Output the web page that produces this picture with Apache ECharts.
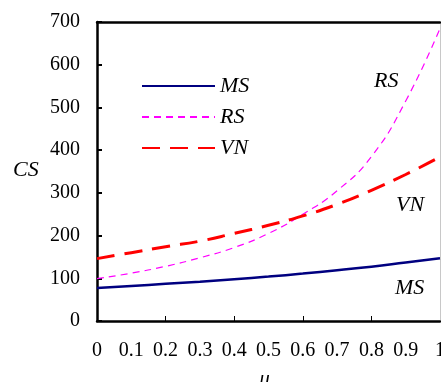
<!DOCTYPE html>
<html>
<head>
<meta charset="utf-8">
<script src="https://cdn.jsdelivr.net/npm/echarts@6/dist/echarts.min.js"></script>
<style>
  html, body { margin: 0; padding: 0; background: #fff; }
  #chart { width: 441px; height: 382px; }
</style>
</head>
<body>
<div id="chart"></div>
<script>
// values
const mu = [0, 0.1, 0.2, 0.3, 0.4, 0.5, 0.6, 0.7, 0.8, 0.9, 1.0];
const msValues = [77, 82, 87, 92, 98, 104, 111, 119, 127, 137, 147];
const rsValues = [99, 112, 128, 148, 172, 205, 250, 305, 385, 515, 685];
const vnValues = [146, 160, 174, 187, 205, 224, 246, 273, 306, 343, 384];
const xTickValues = [0.2, 0.4, 0.6, 0.8];
const seriesNames = ['MS', 'RS', 'VN'];

const serif = 'Liberation Serif';

const chartDom = document.getElementById('chart');
const myChart = echarts.init(chartDom, undefined, { renderer: 'canvas' });

const pairs = (vals) => mu.map((m, i) => [m, vals[i]]);

const option = {
  animation: false,
  grid: { left: 97, right: 1, top: 22, bottom: 61, containLabel: false, outerBoundsMode: 'none' },
  legend: {
    data: seriesNames,
    orient: 'vertical',
    left: 136,
    top: 70,
    itemWidth: 73,
    itemHeight: 14,
    itemGap: 9,
    itemStyle: { opacity: 0 },
    textStyle: { fontFamily: serif, fontStyle: 'italic', fontSize: 22, color: '#000' }
  },
  xAxis: [
    {
      type: 'value',
      min: 0,
      max: 1,
      interval: 0.1,
      name: 'μ',
      nameLocation: 'middle',
      nameGap: 48,
      nameTextStyle: { fontFamily: serif, fontStyle: 'italic', fontSize: 21, color: '#000', padding: [0, 8, 0, 0] },
      axisLine: { show: true, onZero: false, lineStyle: { color: '#000', width: 2.5 } },
      axisTick: { show: true, inside: true, length: 5, customValues: xTickValues, lineStyle: { color: '#000', width: 1 } },
      axisLabel: { margin: 20, fontFamily: serif, fontSize: 20, color: '#000' },
      splitLine: { show: false }
    },
    {
      type: 'value',
      position: 'top',
      min: 0,
      max: 1,
      axisLine: { show: true, onZero: false, lineStyle: { color: '#000', width: 2.5 } },
      axisTick: { show: false },
      axisLabel: { show: false },
      splitLine: { show: false }
    }
  ],
  yAxis: [
    {
      type: 'value',
      min: 0,
      max: 700,
      interval: 100,
      axisLine: { show: true, onZero: false, lineStyle: { color: '#000', width: 2.5 } },
      axisTick: { show: true, inside: true, length: 5, lineStyle: { color: '#000', width: 2 } },
      axisLabel: { margin: 17, fontFamily: serif, fontSize: 20, color: '#000' },
      splitLine: { show: false }
    },
    {
      type: 'value',
      position: 'right',
      min: 0,
      max: 700,
      axisLine: { show: true, onZero: false, lineStyle: { color: '#c8c8c8', width: 1 } },
      axisTick: { show: false },
      axisLabel: { show: false },
      splitLine: { show: false }
    }
  ],
  graphic: [
    { type: 'text', left: 13, top: 159, style: { text: 'CS', font: 'italic 22px "Liberation Serif"', fill: '#000' } },
    { type: 'text', left: 374, top: 70, style: { text: 'RS', font: 'italic 22px "Liberation Serif"', fill: '#000' } },
    { type: 'text', left: 396, top: 194, style: { text: 'VN', font: 'italic 22px "Liberation Serif"', fill: '#000' } },
    { type: 'text', left: 395, top: 277, style: { text: 'MS', font: 'italic 22px "Liberation Serif"', fill: '#000' } }
  ],
  series: [
    {
      name: 'MS',
      type: 'line',
      smooth: true,
      symbol: 'none',
      data: pairs(msValues),
      lineStyle: { color: '#000080', width: 2.5, type: 'solid' },
      itemStyle: { color: '#000080' }
    },
    {
      name: 'RS',
      type: 'line',
      smooth: true,
      symbol: 'none',
      data: pairs(rsValues),
      lineStyle: { color: '#ff00ff', width: 1.2, type: [7, 5] },
      itemStyle: { color: '#ff00ff' }
    },
    {
      name: 'VN',
      type: 'line',
      smooth: true,
      symbol: 'none',
      data: pairs(vnValues),
      lineStyle: { color: '#ff0000', width: 3, type: [18, 10] },
      itemStyle: { color: '#ff0000' }
    }
  ]
};

myChart.setOption(option);
window.addEventListener('resize', () => {
  myChart.resize();
});
</script>
</body>
</html>
